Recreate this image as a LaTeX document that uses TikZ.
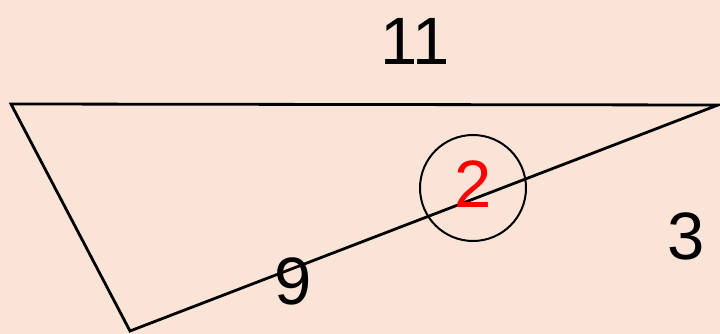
\documentclass[tikz,border=0pt]{standalone}
\usepackage{fontspec}
\setmainfont{Liberation Sans}
\usetikzlibrary{positioning}
\definecolor{Peach}{RGB}{250, 228, 216}

\begin{document}
\begin{tikzpicture}[
      x=1pt, y=-1pt,
      edge/.style={draw=black, line width=2.8pt, line join=miter},
      num/.style={font=\fontsize{67}{67}\selectfont, inner sep=0pt},
      ring/.style={draw=black, line width=2pt, circle, minimum size=106pt, inner sep=0pt}
    ]
      \fill[Peach] (0,0) rectangle (720,334);
      \useasboundingbox (0,0) rectangle (720,334);

      % triangle corners
      \coordinate (tl) at (11,104);
      \coordinate (tr) at (718,105);
      \coordinate (bt) at (130,331);

      \draw[edge] (tl) -- (tr) -- (bt) -- cycle;

      \node[ring] (c2) at (473,188) {};
      \node[num, red] (n2) at (473,184) {2};

      \node[num] (n11) at (415,41) {11};
      \node[num] (n9) at (293,281) {9};
      \node[num] (n3) at (686,236) {3};
    \end{tikzpicture}
\end{document}
